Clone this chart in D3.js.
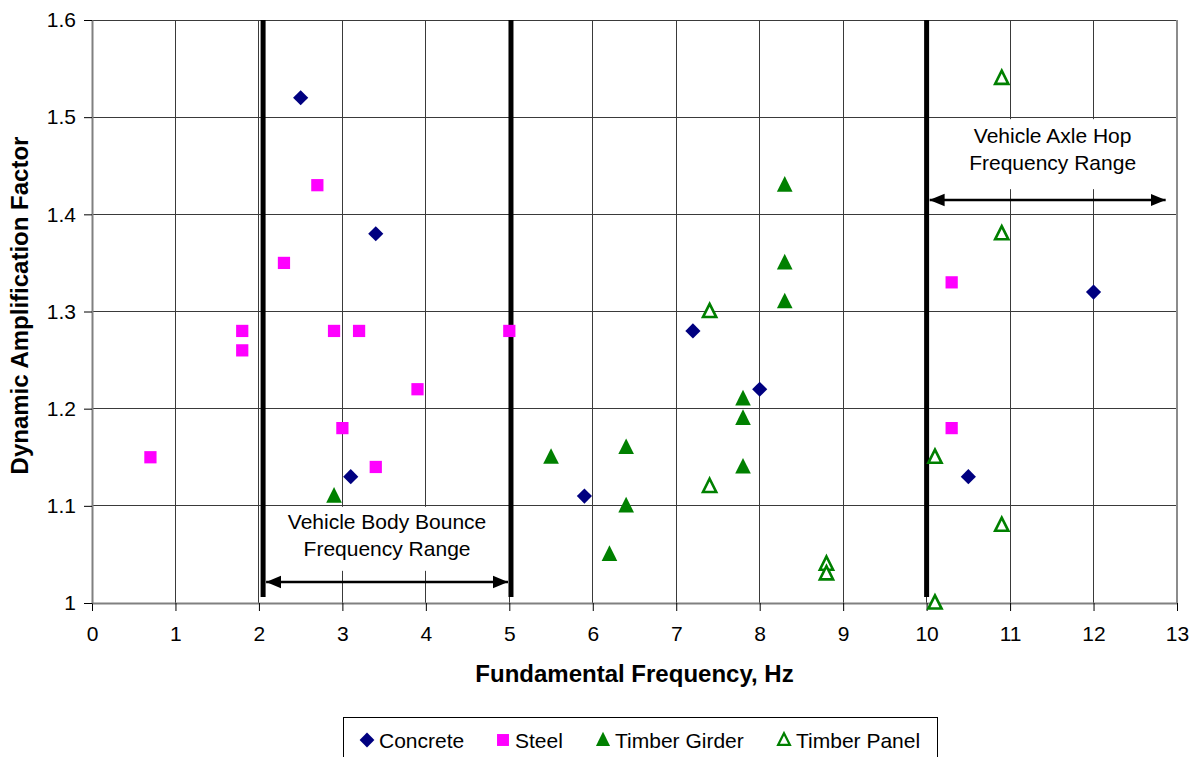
<!DOCTYPE html>
<html>
<head>
<meta charset="utf-8">
<script src="https://cdn.jsdelivr.net/npm/d3@7"></script>
<style>
  html, body { margin: 0; padding: 0; background: #fff; }
  svg { display: block; font-family: "Liberation Sans", Arial, sans-serif; }
</style>
</head>
<body>
<svg id="chart" width="1195" height="757"></svg>
<script>
// Bridge frequency vs. dynamic amplification, grouped by superstructure type
const concreteX = [2.5, 3.4, 3.1, 5.9, 7.2, 8.0, 10.5, 12.0];
const concreteY = [1.52, 1.38, 1.13, 1.11, 1.28, 1.22, 1.13, 1.32];

const steelX = [0.7, 1.8, 1.8, 2.3, 2.7, 2.9, 3.2, 3.0, 3.4, 3.9, 5.0, 10.3, 10.3];
const steelY = [1.15, 1.28, 1.26, 1.35, 1.43, 1.28, 1.28, 1.18, 1.14, 1.22, 1.28, 1.33, 1.18];

const girderX = [2.9, 5.5, 6.4, 6.4, 6.2, 7.8, 7.8, 7.8, 8.3, 8.3, 8.3];
const girderY = [1.11, 1.15, 1.16, 1.10, 1.05, 1.21, 1.19, 1.14, 1.43, 1.35, 1.31];

const panelX = [7.4, 7.4, 8.8, 8.8, 10.1, 10.1, 10.9, 10.9, 10.9];
const panelY = [1.30, 1.12, 1.04, 1.03, 1.00, 1.15, 1.08, 1.38, 1.54];

const seriesNames = ["Concrete", "Steel", "Timber Girder", "Timber Panel"];

const xTicks = [0, 1, 2, 3, 4, 5, 6, 7, 8, 9, 10, 11, 12, 13];
const yTicks = [1.0, 1.1, 1.2, 1.3, 1.4, 1.5, 1.6];

// Frequency bands marked on the chart
const bounceRange = [2.05, 5.02];
const axleHopRange = [10.0, 12.9];
const bounceLabel = ["Vehicle Body Bounce", "Frequency Range"];
const axleLabel = ["Vehicle Axle Hop", "Frequency Range"];

const xTitle = "Fundamental Frequency, Hz";
const yTitle = "Dynamic Amplification Factor";

// ---- layout ----
const svg = d3.select("#chart");
const plot = { left: 92, right: 1177, top: 20, bottom: 603 };

const x = d3.scaleLinear().domain([0, 13]).range([plot.left, plot.right]);
const y = d3.scaleLinear().domain([1.0, 1.6]).range([plot.bottom, plot.top]);

// ---- marker shapes ----
const diamondType = {
  draw(ctx, size) {
    const r = Math.sqrt(size) / 2 * Math.SQRT2;
    ctx.moveTo(0, -r); ctx.lineTo(r, 0); ctx.lineTo(0, r); ctx.lineTo(-r, 0); ctx.closePath();
  }
};
const squareType = {
  draw(ctx, size) {
    const h = Math.sqrt(size) / 2;
    ctx.rect(-h, -h, 2 * h, 2 * h);
  }
};
const triangleType = {
  draw(ctx, size) {
    const w = Math.sqrt(size);
    ctx.moveTo(0, -w * 0.58); ctx.lineTo(w / 2, w * 0.42); ctx.lineTo(-w / 2, w * 0.42); ctx.closePath();
  }
};

const series = [
  { name: seriesNames[0], xs: concreteX, ys: concreteY, type: diamondType, size: 115, fill: "#000080", stroke: "none", sw: 0 },
  { name: seriesNames[1], xs: steelX, ys: steelY, type: squareType, size: 150, fill: "#FF00FF", stroke: "none", sw: 0 },
  { name: seriesNames[2], xs: girderX, ys: girderY, type: triangleType, size: 245, fill: "#008000", stroke: "none", sw: 0 },
  { name: seriesNames[3], xs: panelX, ys: panelY, type: triangleType, size: 175, fill: "#FFFFFF", stroke: "#008000", sw: 2.6 }
];

// ---- grid ----
const grid = svg.append("g").attr("shape-rendering", "crispEdges");
grid.selectAll("line.v").data(xTicks.filter(d => d > 0 && d < 13)).join("line")
  .attr("class", "v")
  .attr("x1", d => x(d)).attr("x2", d => x(d))
  .attr("y1", plot.top).attr("y2", plot.bottom)
  .attr("stroke", "#3a3a3a").attr("stroke-width", 1);
grid.selectAll("line.h").data(yTicks.filter(d => d > 1.0)).join("line")
  .attr("class", "h")
  .attr("x1", plot.left).attr("x2", plot.right)
  .attr("y1", d => y(d)).attr("y2", d => y(d))
  .attr("stroke", "#3a3a3a").attr("stroke-width", 1);

// right frame edge
svg.append("line")
  .attr("x1", plot.right).attr("x2", plot.right)
  .attr("y1", plot.top).attr("y2", plot.bottom)
  .attr("stroke", "#8c8c8c").attr("stroke-width", 2);

// ---- axes ----
const xAxis = d3.axisBottom(x).tickValues(xTicks).tickFormat(d3.format("d"))
  .tickSizeInner(8).tickSizeOuter(0).tickPadding(15);
const yAxis = d3.axisLeft(y).tickValues(yTicks).tickFormat(d => d === 1 ? "1" : d3.format(".1f")(d))
  .tickSizeInner(8).tickSizeOuter(0).tickPadding(8);

const gx = svg.append("g").attr("transform", `translate(0,${plot.bottom})`).call(xAxis);
const gy = svg.append("g").attr("transform", `translate(${plot.left},0)`).call(yAxis);
[gx, gy].forEach(g => {
  g.attr("font-size", 21).attr("font-family", "'Liberation Sans', Arial, sans-serif");
  g.select(".domain").attr("stroke", "#808080").attr("stroke-width", 2);
  g.selectAll(".tick line").attr("stroke", "#000").attr("stroke-width", 1);
  g.selectAll(".tick text").attr("font-size", 21).attr("fill", "#000");
});

// ---- label boxes (white background behind range captions) ----
const boxes = svg.append("g");
boxes.append("rect")
  .attr("x", x(bounceRange[0]) + 11).attr("y", y(1.1) + 1)
  .attr("width", x(bounceRange[1]) - x(bounceRange[0]) - 22).attr("height", 64)
  .attr("fill", "#fff");
boxes.append("rect")
  .attr("x", x(axleHopRange[0]) + 8).attr("y", y(1.5) + 2)
  .attr("width", x(axleHopRange[1]) - x(axleHopRange[0]) - 6).attr("height", 70)
  .attr("fill", "#fff");

// ---- range boundary lines ----
const bounds = [bounceRange[0], bounceRange[1], axleHopRange[0]];
svg.append("g").selectAll("line").data(bounds).join("line")
  .attr("x1", d => x(d)).attr("x2", d => x(d))
  .attr("y1", plot.top).attr("y2", plot.bottom - 6)
  .attr("stroke", "#000").attr("stroke-width", 5);

// ---- double-headed arrows ----
const defs = svg.append("defs");
["start", "end"].forEach(k => {
  defs.append("marker")
    .attr("id", "arrow-" + k)
    .attr("viewBox", "0 0 12 10")
    .attr("refX", k === "end" ? 12 : 0).attr("refY", 5)
    .attr("markerUnits", "userSpaceOnUse")
    .attr("markerWidth", 15).attr("markerHeight", 15)
    .attr("orient", "auto")
    .append("path")
    .attr("d", k === "end" ? "M0,0 L12,5 L0,10 Z" : "M12,0 L0,5 L12,10 Z")
    .attr("fill", "#000");
});

const arrows = [
  { x1: bounceRange[0], x2: bounceRange[1], yPix: 582 },
  { x1: axleHopRange[0], x2: axleHopRange[1], yPix: 200 }
];
svg.append("g").selectAll("line").data(arrows).join("line")
  .attr("x1", d => x(d.x1) + 3).attr("x2", d => x(d.x2) - 3)
  .attr("y1", d => d.yPix).attr("y2", d => d.yPix)
  .attr("stroke", "#000").attr("stroke-width", 2.5)
  .attr("marker-start", "url(#arrow-start)")
  .attr("marker-end", "url(#arrow-end)");

// ---- range captions ----
function caption(lines, cx, top) {
  const t = svg.append("text").attr("text-anchor", "middle").attr("font-size", 21).attr("fill", "#000");
  lines.forEach((s, i) => t.append("tspan").attr("x", cx).attr("y", top + i * 27).text(s));
}
caption(bounceLabel, (x(bounceRange[0]) + x(bounceRange[1])) / 2, 529);
caption(axleLabel, (x(axleHopRange[0]) + x(axleHopRange[1])) / 2 + 5, 143);

// ---- data points ----
const pts = svg.append("g");
series.forEach(s => {
  const sym = d3.symbol().type(s.type).size(s.size);
  pts.append("g").selectAll("path").data(s.xs.map((v, i) => [v, s.ys[i]])).join("path")
    .attr("transform", d => `translate(${x(d[0])},${y(d[1])})`)
    .attr("d", sym)
    .attr("fill", s.fill)
    .attr("stroke", s.stroke)
    .attr("stroke-width", s.sw)
    .attr("stroke-linejoin", "miter");
});

// ---- axis titles ----
svg.append("text")
  .attr("x", (plot.left + plot.right) / 2).attr("y", 682)
  .attr("text-anchor", "middle").attr("font-size", 24).attr("font-weight", "bold")
  .text(xTitle);
svg.append("text")
  .attr("transform", `translate(28,${(plot.top + plot.bottom) / 2 - 6}) rotate(-90)`)
  .attr("text-anchor", "middle").attr("font-size", 24).attr("font-weight", "bold")
  .text(yTitle);

// ---- legend ----
const legend = svg.append("g");
legend.append("rect")
  .attr("x", 343.5).attr("y", 717.5).attr("width", 594).attr("height", 45)
  .attr("fill", "#fff").attr("stroke", "#000").attr("stroke-width", 1);
const legendX = [367, 503, 603, 784];
series.forEach((s, i) => {
  const g = legend.append("g").attr("transform", `translate(${legendX[i]},740)`);
  const legendSize = s.type === triangleType ? (s.stroke === "none" ? 200 : 140) : s.size * 0.95;
  g.append("path")
    .attr("d", d3.symbol().type(s.type).size(legendSize)())
    .attr("fill", s.fill).attr("stroke", s.stroke).attr("stroke-width", s.sw ? 2.2 : 0);
  g.append("text").attr("x", 12).attr("y", 7.5).attr("font-size", 21).text(s.name);
});
</script>
</body>
</html>
